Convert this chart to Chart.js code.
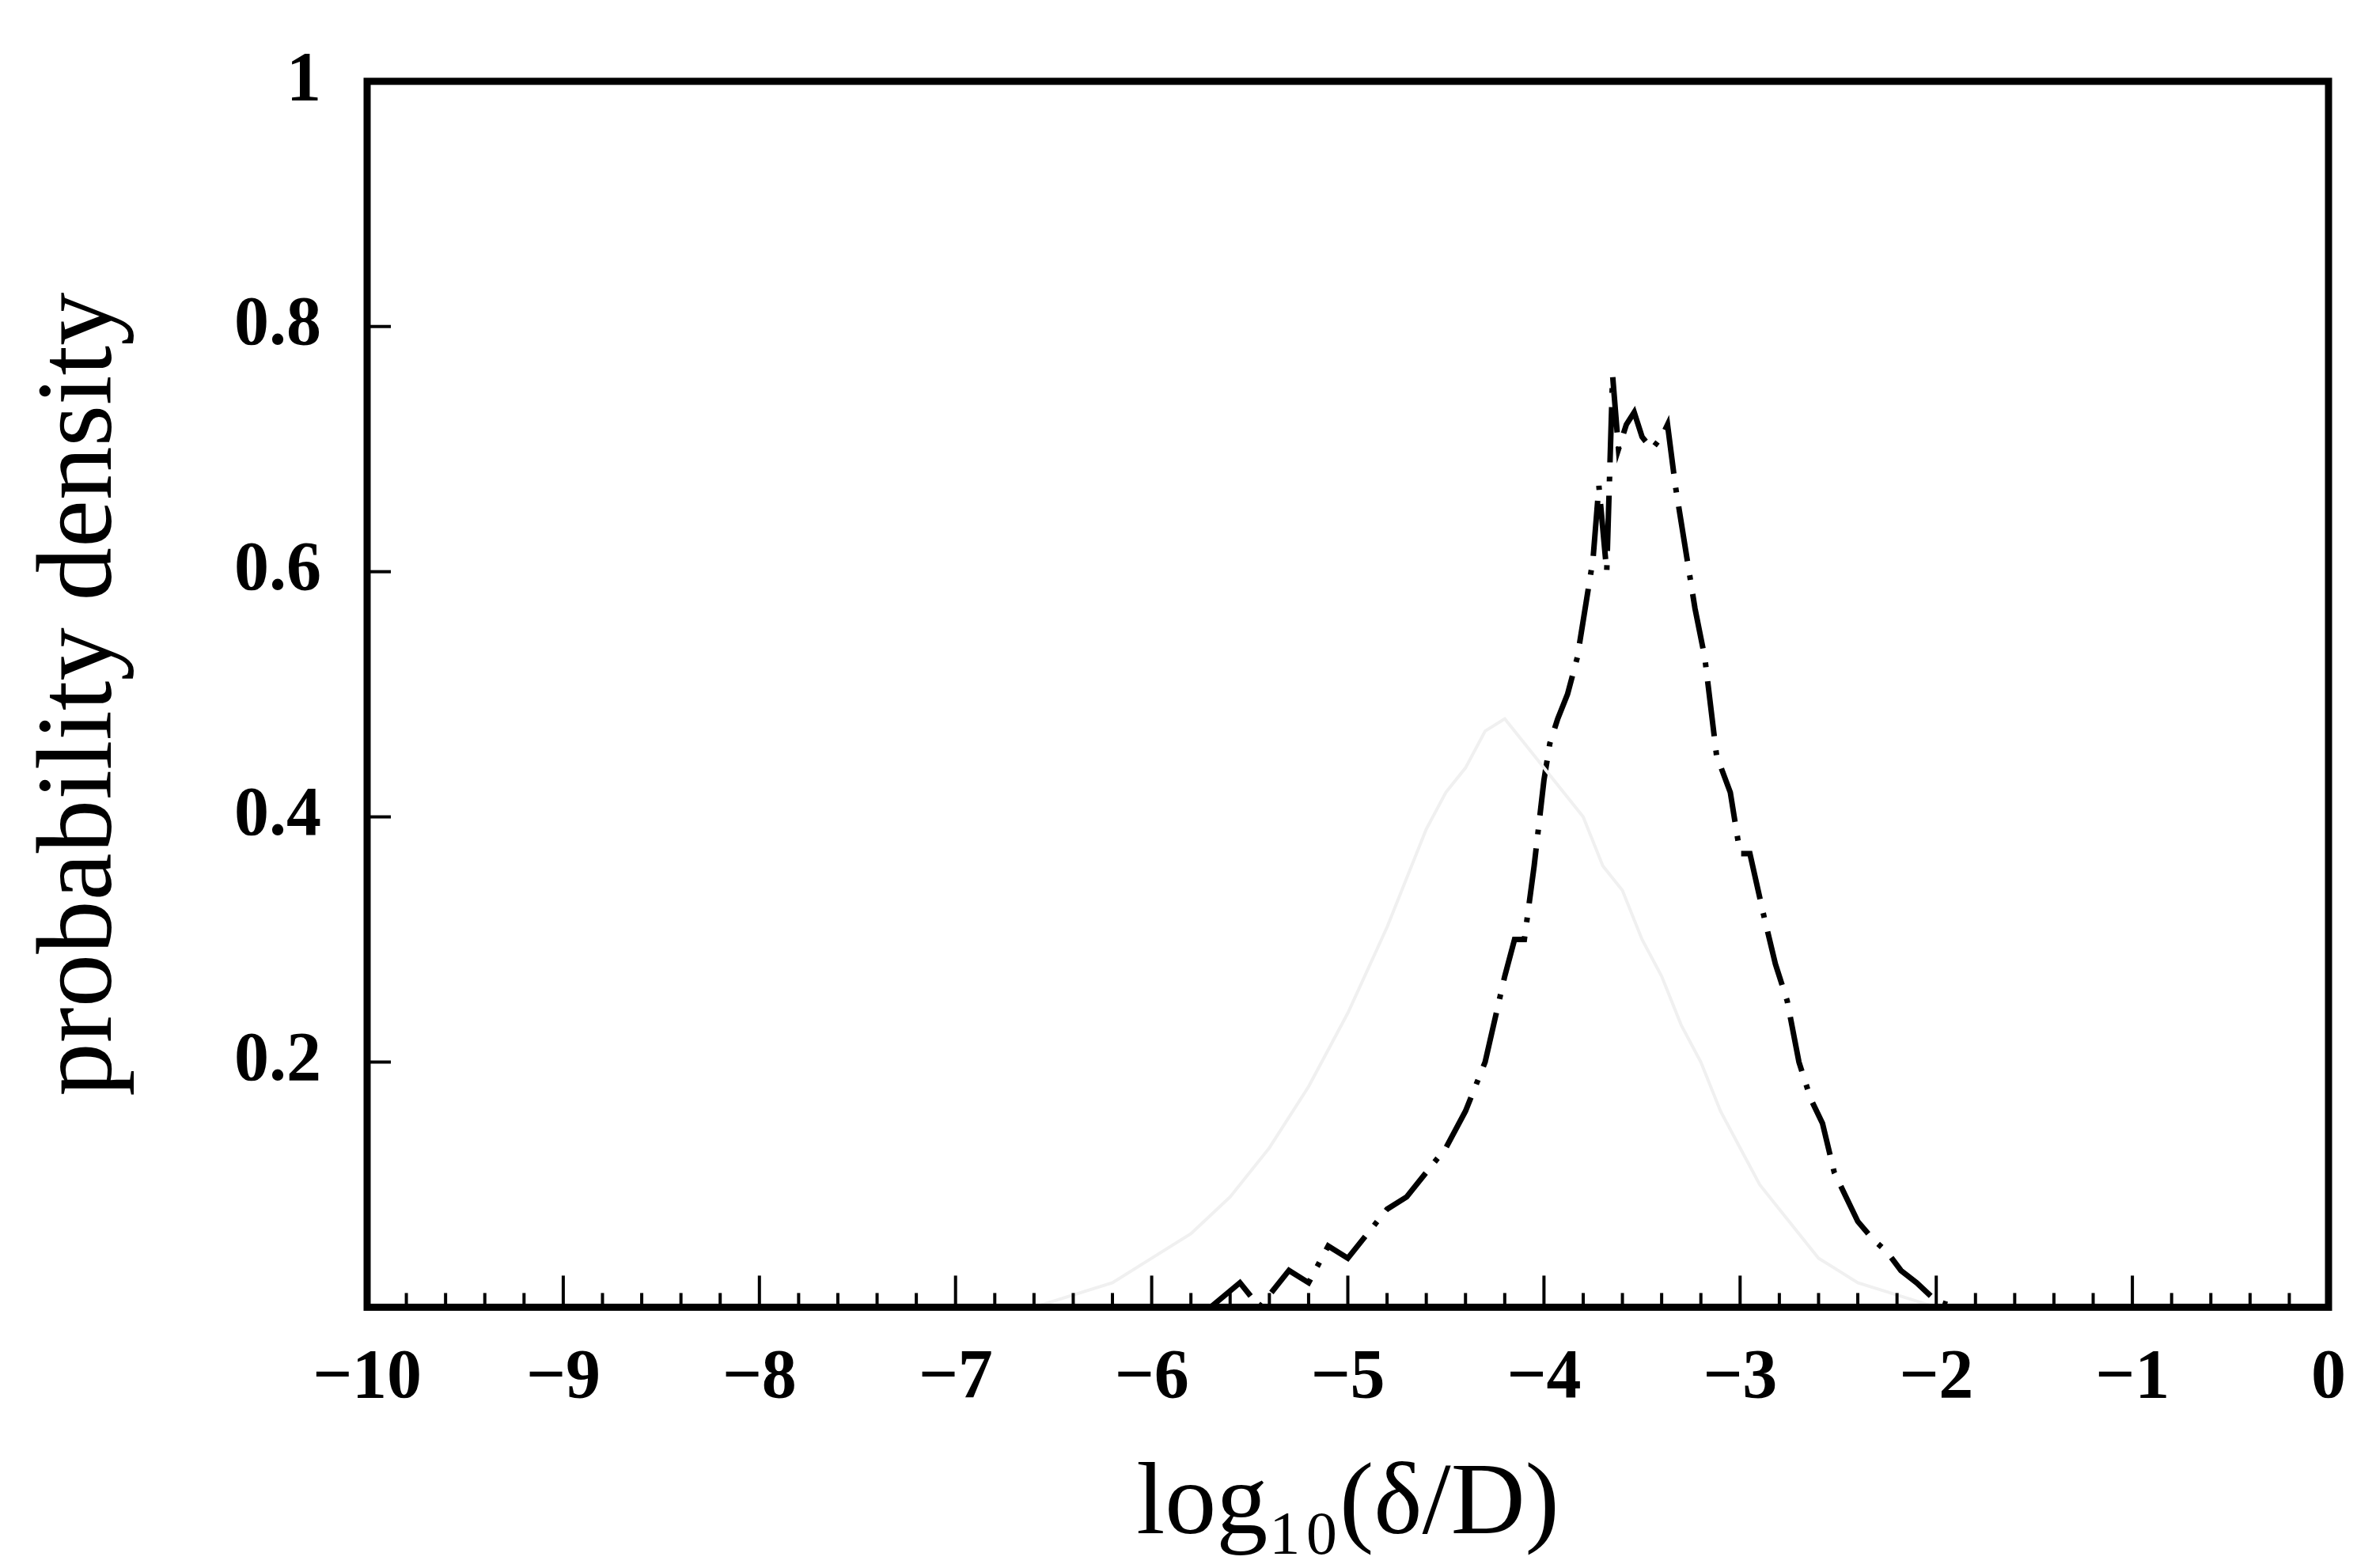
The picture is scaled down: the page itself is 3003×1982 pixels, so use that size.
<!DOCTYPE html>
<html>
<head>
<meta charset="utf-8">
<script src="https://cdn.jsdelivr.net/npm/chart.js@4"></script>
<style>
  body { margin: 0; background: #fff; }
  #wrap { width: 3003px; height: 1982px; }
</style>
</head>
<body>
<div id="wrap"><canvas id="c" width="3003" height="1982"></canvas></div>
<script>
// black dash-dot curve
const darkX = [-5.7, -5.55, -5.45, -5.3, -5.2, -5.1, -5.0, -4.9, -4.8, -4.7, -4.6, -4.5, -4.4, -4.3, -4.2, -4.15, -4.1, -4.05, -4.0, -3.97, -3.93, -3.88, -3.83, -3.8, -3.75, -3.72, -3.68, -3.65, -3.62, -3.58, -3.54, -3.5, -3.45, -3.4, -3.37, -3.33, -3.28, -3.23, -3.18, -3.12, -3.05, -3.0, -2.95, -2.88, -2.82, -2.76, -2.7, -2.64, -2.58, -2.52, -2.46, -2.4, -2.32, -2.25, -2.18, -2.1, -2.0, -1.9, -1.8, -1.6];
const darkY = [0.0, 0.02, 0.0, 0.03, 0.02, 0.05, 0.04, 0.06, 0.08, 0.09, 0.11, 0.13, 0.16, 0.2, 0.27, 0.3, 0.3, 0.36, 0.43, 0.46, 0.48, 0.5, 0.53, 0.56, 0.61, 0.67, 0.6, 0.76, 0.7, 0.72, 0.73, 0.71, 0.7, 0.71, 0.72, 0.67, 0.62, 0.57, 0.53, 0.45, 0.42, 0.37, 0.37, 0.32, 0.28, 0.25, 0.2, 0.17, 0.15, 0.11, 0.09, 0.07, 0.055, 0.045, 0.03, 0.02, 0.005, 0.0, 0.0, 0.0];
// faint grey curve
const lightX = [-6.6, -6.2, -6.0, -5.8, -5.6, -5.4, -5.2, -5.0, -4.8, -4.7, -4.6, -4.5, -4.4, -4.3, -4.2, -4.1, -4.0, -3.9, -3.8, -3.7, -3.6, -3.5, -3.4, -3.3, -3.2, -3.1, -3.0, -2.9, -2.8, -2.7, -2.6, -2.5, -2.4, -2.2, -2.0];
const lightY = [0.0, 0.02, 0.04, 0.06, 0.09, 0.13, 0.18, 0.24, 0.31, 0.35, 0.39, 0.42, 0.44, 0.47, 0.48, 0.46, 0.44, 0.42, 0.4, 0.36, 0.34, 0.3, 0.27, 0.23, 0.2, 0.16, 0.13, 0.1, 0.08, 0.06, 0.04, 0.03, 0.02, 0.01, 0.0];
const xTicks = [-10, -9, -8, -7, -6, -5, -4, -3, -2, -1, 0];
const yTicks = [0.2, 0.4, 0.6, 0.8, 1];

const toPts = (xs, ys) => xs.map((x, i) => ({x: x, y: ys[i]}));
const serif = '"Liberation Serif", "DejaVu Serif", serif';

// inward tick marks drawn through the scales
const tickPlugin = {
    id: 'ticks',
    afterDraw(chart) {
        const ctx = chart.ctx;
        const xs = chart.scales.x, ys = chart.scales.y;
        const a = chart.chartArea;
        ctx.save();
        ctx.strokeStyle = '#000';
        ctx.lineWidth = 4;
        for (let i = -50; i <= 0; i++) {
            const px = xs.getPixelForValue(i / 5);
            const len = (i % 5 === 0) ? 40 : 18;
            ctx.beginPath();
            ctx.moveTo(px, a.bottom);
            ctx.lineTo(px, a.bottom - len);
            ctx.stroke();
        }
        yTicks.forEach(v => {
            const py = ys.getPixelForValue(v);
            ctx.beginPath();
            ctx.moveTo(a.left, py);
            ctx.lineTo(a.left + 30, py);
            ctx.stroke();
        });
        ctx.lineWidth = 9;
        ctx.strokeRect(a.left, a.top, a.right - a.left, a.bottom - a.top);
        ctx.restore();
    }
};

new Chart(document.getElementById('c'), {
    type: 'line',
    data: {
        datasets: [{
            data: toPts(lightX, lightY),
            borderColor: '#f0f0f0',
            borderWidth: 4,
            pointRadius: 0,
            tension: 0
        }, {
            data: toPts(darkX, darkY),
            borderColor: '#000',
            borderWidth: 7,
            borderDash: [70, 18, 6, 18],
            pointRadius: 0,
            tension: 0
        }]
    },
    options: {
        responsive: false,
        animation: false,
        layout: {padding: {left: 20, right: 60, top: 22, bottom: 0}},
        plugins: {legend: {display: false}, tooltip: {enabled: false}},
        scales: {
            x: {
                type: 'linear', min: -10, max: 0,
                afterBuildTicks: s => { s.ticks = xTicks.map(v => ({value: v})); },
                grid: {display: false},
                border: {display: false},
                ticks: {
                    color: '#000', padding: 30,
                    font: {family: serif, size: 88, weight: 'bold'},
                    callback: v => v < 0 ? '\u2212' + Math.abs(v) : String(v)
                },
                title: {
                    display: true, text: 'log\u2081\u2080(\u03b4/D)', color: '#000',
                    font: {family: serif, size: 130}, padding: {top: 0, bottom: 0}
                }
            },
            y: {
                type: 'linear', min: 0, max: 1,
                afterBuildTicks: s => { s.ticks = yTicks.map(v => ({value: v})); },
                grid: {display: false},
                border: {display: false},
                ticks: {
                    color: '#000', padding: 50,
                    font: {family: serif, size: 88, weight: 'bold'},
                    callback: v => String(v)
                },
                title: {
                    display: true, text: 'probability density', color: '#000',
                    font: {family: serif, size: 135}, padding: {bottom: 60}
                }
            }
        }
    },
    plugins: [tickPlugin]
});
</script>
</body>
</html>
